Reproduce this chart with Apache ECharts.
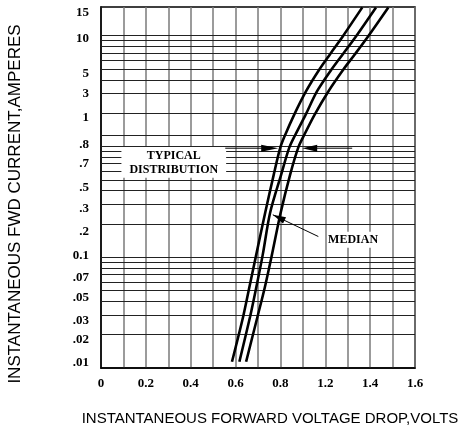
<!DOCTYPE html>
<html>
<head>
<meta charset="utf-8">
<script src="https://cdn.jsdelivr.net/npm/echarts@6.0.0/dist/echarts.min.js"></script>
<style>
html,body{margin:0;padding:0;background:#fff;}
#chart{width:465px;height:436px;}
</style>
</head>
<body>
<div id="chart"></div>
<script>
// ---- data ----
const xTickLabels = ['0', '0.2', '0.4', '0.6', '0.8', '1.2', '1.4', '1.6'];
const yTickLabels = ['15', '10', '5', '3', '1', '.8', '.7', '.5', '.3', '.2', '0.1', '.07', '.05', '.03', '.02', '.01'];
// where each y label is printed on the (log) current axis, as drawn in the original
const yTickAt = [16, 9.5, 4.5, 2.98, 1.81, 1.03, 0.696, 0.423, 0.273, 0.170, 0.103, 0.0652, 0.043, 0.0267, 0.018, 0.0112];
const yGridValues = [10, 9, 8, 7, 6, 5, 4, 3, 2, 1.25, 1, 0.9, 0.8, 0.7, 0.6, 0.5, 0.4, 0.3, 0.2,
  0.1, 0.09, 0.08, 0.07, 0.06, 0.05, 0.04, 0.03, 0.02];

const currentAmps = [18, 10, 6.84, 4.9, 3.17, 1.93, 1.27, 0.97, 0.554, 0.252, 0.105, 0.053, 0.0292, 0.0114];
const voltsLow    = [1.165, 1.080, 1.022, 0.972, 0.915, 0.861, 0.821, 0.799, 0.770, 0.732, 0.692, 0.661, 0.634, 0.584];
const voltsMedian = [1.226, 1.139, 1.079, 1.026, 0.964, 0.912, 0.866, 0.839, 0.803, 0.754, 0.721, 0.692, 0.665, 0.617];
const voltsHigh   = [1.281, 1.193, 1.133, 1.079, 1.015, 0.952, 0.906, 0.879, 0.843, 0.801, 0.762, 0.730, 0.698, 0.647];

// annotation anchors (data space)
const distY = 0.9645;
const leftArrowX = [0.554, 0.790];
const rightArrowX = [1.12, 0.897];
const medianTip = [0.766, 0.2415];
const medianTail = [0.969, 0.1538];
const medianText = [1.008, 0.1435];
const boxCorners = [[0.091, 0.991], [0.558, 0.5205]];

const pair = (xs, ys) => xs.map((x, i) => [x, ys[i]]);

const chart = echarts.init(document.getElementById('chart'), null, {renderer: 'canvas'});
const labelFont = {fontFamily: 'Liberation Serif', fontWeight: 'bold', fontSize: 13, color: '#000'};
const curveStyle = {color: '#000', width: 2.6};

chart.setOption({
  animation: false,
  backgroundColor: '#fff',
  grid: {left: 101, right: 50, top: 7, bottom: 68, show: true, borderColor: '#000', borderWidth: 1.5, backgroundColor: 'transparent'},
  xAxis: {
    type: 'value', min: 0, max: 1.4, interval: 0.1,
    axisLine: {show: true, lineStyle: {color: '#000', width: 1.5}},
    axisTick: {show: false},
    splitLine: {show: true, lineStyle: {color: '#7a7a7a', width: 1.5}},
    axisLabel: Object.assign({}, labelFont, {
      margin: 9,
      formatter: v => {
        const k = Math.round(v * 10);
        return k % 2 === 0 ? (xTickLabels[k / 2] || '') : '';
      }
    })
  },
  yAxis: {
    type: 'log', logBase: 10, min: 0.01, max: 18.15,
    axisLine: {show: true, lineStyle: {color: '#000', width: 1.5}},
    axisTick: {show: false},
    splitLine: {show: false},
    axisLabel: Object.assign({}, labelFont, {
      margin: 12,
      customValues: yTickAt,
      formatter: v => {
        let best = 0, bd = Infinity;
        yTickAt.forEach((t, i) => { const d = Math.abs(Math.log(t) - Math.log(v)); if (d < bd) { bd = d; best = i; } });
        return yTickLabels[best];
      }
    })
  },
  series: [
    {
      type: 'line', data: pair(voltsLow, currentAmps), showSymbol: false, smooth: 0.3,
      lineStyle: curveStyle, z: 5,
      markLine: {
        silent: true, symbol: 'none', animation: false,
        label: {show: false},
        lineStyle: {color: '#222', width: 1.1, type: 'solid'},
        data: yGridValues.map(v => ({yAxis: v}))
      }
    },
    {type: 'line', data: pair(voltsMedian, currentAmps), showSymbol: false, smooth: 0.3, lineStyle: curveStyle, z: 5},
    {type: 'line', data: pair(voltsHigh, currentAmps), showSymbol: false, smooth: 0.3, lineStyle: curveStyle, z: 5}
  ]
});

const P = (x, y) => chart.convertToPixel({gridIndex: 0}, [x, y]);
function arrowHead(tip, from, len, half) {
  const dx = tip[0] - from[0], dy = tip[1] - from[1];
  const L = Math.hypot(dx, dy), ux = dx / L, uy = dy / L;
  const bx = tip[0] - ux * len, by = tip[1] - uy * len;
  return [tip, [bx - uy * half, by + ux * half], [bx + uy * half, by - ux * half]];
}
const b0 = P(boxCorners[0][0], boxCorners[0][1]);
const b1 = P(boxCorners[1][0], boxCorners[1][1]);
const la0 = P(leftArrowX[0], distY), la1 = P(leftArrowX[1], distY);
const ra0 = P(rightArrowX[0], distY), ra1 = P(rightArrowX[1], distY);
const mt = P(medianTip[0], medianTip[1]), ml = P(medianTail[0], medianTail[1]);
const mx = P(medianText[0], medianText[1]);
const serifBold = 'bold 12px "Liberation Serif"';

chart.setOption({
  graphic: [
    {type: 'rect', z: 50, shape: {x: b0[0], y: b0[1], width: b1[0] - b0[0], height: b1[1] - b0[1]}, style: {fill: '#fff'}},
    {type: 'text', z: 51, x: (b0[0] + b1[0]) / 2, y: b0[1] + 9.5, style: {text: 'TYPICAL', font: serifBold, fill: '#000', align: 'center', verticalAlign: 'middle'}},
    {type: 'text', z: 51, x: (b0[0] + b1[0]) / 2, y: b0[1] + 23, style: {text: 'DISTRIBUTION', font: serifBold, fill: '#000', align: 'center', verticalAlign: 'middle'}},
    {type: 'line', z: 52, shape: {x1: la0[0], y1: la0[1], x2: la1[0] - 10, y2: la1[1]}, style: {stroke: '#000', lineWidth: 1}},
    {type: 'polygon', z: 52, shape: {points: arrowHead(la1, la0, 17, 3.5)}, style: {fill: '#000'}},
    {type: 'line', z: 52, shape: {x1: ra0[0], y1: ra0[1], x2: ra1[0] + 10, y2: ra1[1]}, style: {stroke: '#000', lineWidth: 1}},
    {type: 'polygon', z: 52, shape: {points: arrowHead(ra1, ra0, 15, 3.5)}, style: {fill: '#000'}},
    {type: 'line', z: 52, shape: {x1: ml[0], y1: ml[1], x2: mt[0], y2: mt[1]}, style: {stroke: '#000', lineWidth: 1}},
    {type: 'polygon', z: 52, shape: {points: arrowHead(mt, ml, 13, 3.5)}, style: {fill: '#000'}},
    {type: 'text', z: 51, x: mx[0], y: mx[1], style: {text: 'MEDIAN', font: serifBold, fill: '#000', align: 'left', verticalAlign: 'middle', backgroundColor: '#fff', padding: [2, 2, 2, 1]}},
    {type: 'text', z: 51, x: 15, y: 204, rotation: Math.PI / 2, style: {text: 'INSTANTANEOUS FWD CURRENT,AMPERES', font: '17px "Liberation Sans"', fill: '#000', align: 'center', verticalAlign: 'middle'}},
    {type: 'text', z: 51, x: 270, y: 419, style: {text: 'INSTANTANEOUS FORWARD VOLTAGE DROP,VOLTS', font: '15px "Liberation Sans"', fill: '#000', align: 'center', verticalAlign: 'middle'}}
  ]
});
</script>
</body>
</html>
